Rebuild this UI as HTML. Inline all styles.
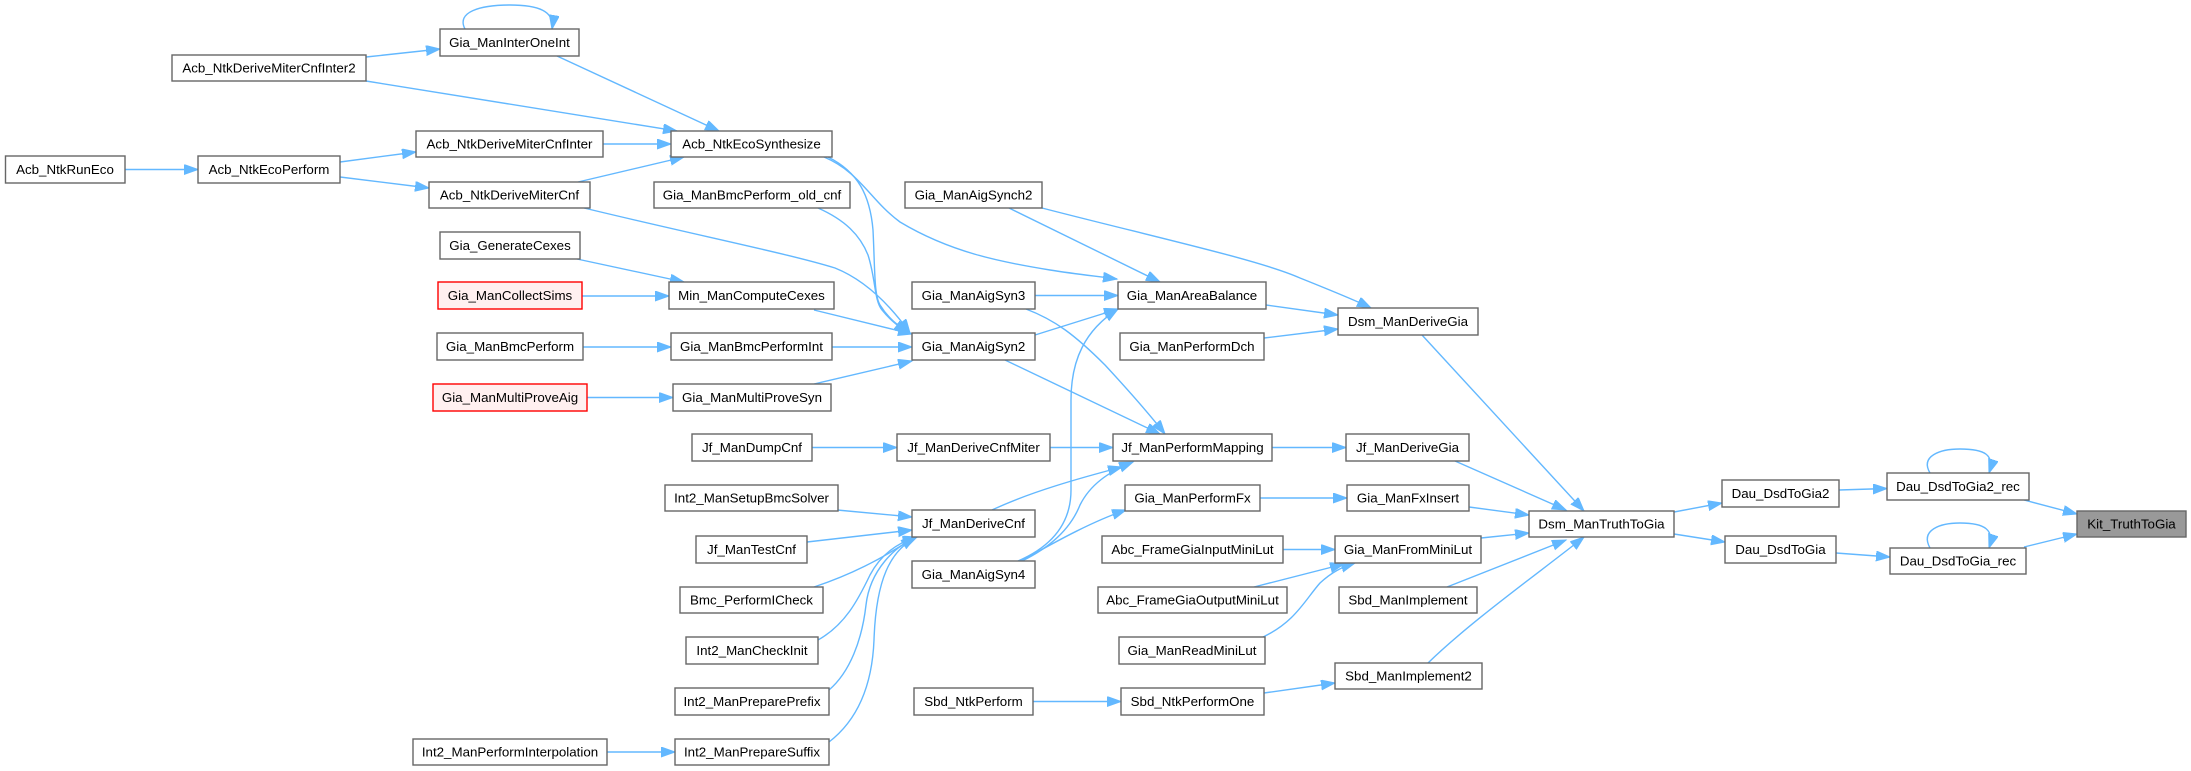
<!DOCTYPE html>
<html><head><meta charset="utf-8"><style>
html,body{margin:0;padding:0;background:#fff;}
svg{display:block;}
text{font-family:"Liberation Sans",Arial,sans-serif;font-size:13.33px;fill:#000;text-anchor:middle;}
.n{fill:#fff;stroke:#666;stroke-width:1.4;}
.r{fill:#fff0f0;stroke:#ff0000;stroke-width:1.4;}
.k{fill:#999;stroke:#666;stroke-width:1.4;}
.e{fill:none;stroke:#63b8ff;stroke-width:1.4;marker-end:url(#a);}
</style></head><body>
<svg width="2191" height="771" viewBox="0 0 2191 771" xmlns="http://www.w3.org/2000/svg">
<defs><marker id="a" markerUnits="userSpaceOnUse" markerWidth="16" markerHeight="12" refX="14" refY="5" orient="auto"><path d="M0,0 L14,5 L0,10 z" fill="#63b8ff" stroke="#63b8ff" stroke-width="1"/></marker></defs>
<rect width="2191" height="771" fill="#fff"/>
<!-- edges -->
<path class="e" d="M125,169.5 L198,169.5"/>
<path class="e" d="M340,162 L416,152"/>
<path class="e" d="M340,177 L429,188"/>
<path class="e" d="M366,57 L440,49"/>
<path class="e" d="M366,81 L677,131"/>
<path class="e" d="M557,56 L719,131"/>
<path class="e" d="M465,29 C456,12 480,5 510,5 C538,5 555,11 552,29"/>
<path class="e" d="M603,144 L671,144"/>
<path class="e" d="M578,182 L684,157"/>
<path class="e" d="M584,208 C700,236 790,254 835,268 C865,280 890,305 910,333"/>
<path class="e" d="M828,157 C858,172 870,195 873,230 C875,270 874,295 880,305 C888,318 898,326 910,333"/>
<path class="e" d="M824,157 C860,172 870,200 900,222 C950,252 1000,262 1050,270 C1075,274 1095,276 1117,279"/>
<path class="e" d="M818,208 C845,220 860,235 868,255 C876,280 874,300 882,310 C890,320 898,326 908,333"/>
<path class="e" d="M577,259 L684,282"/>
<path class="e" d="M582,296 L669,296"/>
<path class="e" d="M814,310 L912,334"/>
<path class="e" d="M583,347 L671,347"/>
<path class="e" d="M832,347 L912,347"/>
<path class="e" d="M587,397.5 L673,397.5"/>
<path class="e" d="M814,384 L912,361"/>
<path class="e" d="M1009,208 L1160,282"/>
<path class="e" d="M1042,208 C1150,236 1260,260 1300,278 C1330,290 1355,300 1371,308"/>
<path class="e" d="M1035,295.5 L1118,295.5"/>
<path class="e" d="M1026,309 C1055,320 1075,335 1105,365 C1130,392 1150,415 1165,434"/>
<path class="e" d="M1035,335 L1118,309"/>
<path class="e" d="M1005,360 L1160,434"/>
<path class="e" d="M1266,305 L1338,315"/>
<path class="e" d="M1264,338 L1338,329"/>
<path class="e" d="M1422,335 L1584,511"/>
<path class="e" d="M812,447.5 L897,447.5"/>
<path class="e" d="M1050,447.5 L1113,447.5"/>
<path class="e" d="M1272,447.5 L1346,447.5"/>
<path class="e" d="M1455,461 L1566,510"/>
<path class="e" d="M992,510 C1030,492 1080,478 1122,467"/>
<path class="e" d="M1022,561 C1055,545 1072,525 1080,505 C1090,485 1108,472 1133,462"/>
<path class="e" d="M1018,561 C1055,545 1071,520 1071,490 L1071,400 C1071,360 1085,330 1118,309"/>
<path class="e" d="M1021,561 C1050,545 1090,522 1126,510"/>
<path class="e" d="M1260,498 L1347,498"/>
<path class="e" d="M1469,507 L1529,515"/>
<path class="e" d="M1283,549.5 L1335,549.5"/>
<path class="e" d="M1254,587 L1344,564"/>
<path class="e" d="M1263,637 C1295,622 1305,600 1320,583 C1332,572 1342,567 1355,563"/>
<path class="e" d="M1481,538 L1529,533"/>
<path class="e" d="M1447,587 L1566,540"/>
<path class="e" d="M1428,663 C1470,622 1540,572 1584,537"/>
<path class="e" d="M1033,701.5 L1121,701.5"/>
<path class="e" d="M1264,693 L1335,683"/>
<path class="e" d="M1674,512 L1722,503"/>
<path class="e" d="M1674,534 L1725,542"/>
<path class="e" d="M1839,490 L1887,488.5"/>
<path class="e" d="M1836,553 L1890,557"/>
<path class="e" d="M2024,500 L2077,514"/>
<path class="e" d="M2024,547 L2077,534"/>
<path class="e" d="M1930,473 C1920,456 1940,449 1960,449 C1985,449 1995,455 1989,473"/>
<path class="e" d="M1930,548 C1920,530 1940,523 1960,523 C1985,523 1995,530 1989,548"/>
<path class="e" d="M607,752 L675,752"/>
<path class="e" d="M837,510 L912,517"/>
<path class="e" d="M807,542 L912,530"/>
<path class="e" d="M814,587 C850,575 880,560 915,537"/>
<path class="e" d="M818,640 C845,625 858,600 870,575 C882,552 900,542 917,537"/>
<path class="e" d="M829,690 C850,672 862,640 866,605 C870,570 895,546 917,537"/>
<path class="e" d="M829,742 C855,722 872,690 874,640 C876,580 890,550 917,537"/>
<!-- nodes -->
<g>
<rect class="n" x="5.5" y="156" width="119.5" height="27"/><text x="65" y="174.2">Acb_NtkRunEco</text>
<rect class="n" x="198" y="156" width="142" height="27"/><text x="269" y="174.2">Acb_NtkEcoPerform</text>
<rect class="n" x="172" y="55" width="194" height="26"/><text x="269" y="72.7">Acb_NtkDeriveMiterCnfInter2</text>
<rect class="n" x="440" y="29" width="139" height="27"/><text x="509.5" y="47.2">Gia_ManInterOneInt</text>
<rect class="n" x="416" y="131" width="187" height="26"/><text x="509.5" y="148.7">Acb_NtkDeriveMiterCnfInter</text>
<rect class="n" x="429" y="182" width="161" height="26"/><text x="509.5" y="199.7">Acb_NtkDeriveMiterCnf</text>
<rect class="n" x="671" y="131" width="161" height="26"/><text x="751.5" y="148.7">Acb_NtkEcoSynthesize</text>
<rect class="n" x="654" y="182" width="196" height="26"/><text x="752" y="199.7">Gia_ManBmcPerform_old_cnf</text>
<rect class="n" x="440" y="232" width="140" height="27"/><text x="510" y="250.2">Gia_GenerateCexes</text>
<rect class="r" x="438" y="282" width="144" height="27"/><text x="510" y="300.2">Gia_ManCollectSims</text>
<rect class="n" x="669" y="282" width="165" height="27"/><text x="751.5" y="300.2">Min_ManComputeCexes</text>
<rect class="n" x="437" y="333" width="146" height="27"/><text x="510" y="351.2">Gia_ManBmcPerform</text>
<rect class="n" x="671" y="333" width="161" height="27"/><text x="751.5" y="351.2">Gia_ManBmcPerformInt</text>
<rect class="r" x="433" y="384" width="154" height="27"/><text x="510" y="402.2">Gia_ManMultiProveAig</text>
<rect class="n" x="673" y="384" width="158" height="27"/><text x="752" y="402.2">Gia_ManMultiProveSyn</text>
<rect class="n" x="692" y="434" width="120" height="27"/><text x="752" y="452.2">Jf_ManDumpCnf</text>
<rect class="n" x="665" y="485" width="173" height="26"/><text x="751.5" y="502.7">Int2_ManSetupBmcSolver</text>
<rect class="n" x="696" y="536" width="111" height="27"/><text x="751.5" y="554.2">Jf_ManTestCnf</text>
<rect class="n" x="680" y="587" width="143" height="26"/><text x="751.5" y="604.7">Bmc_PerformICheck</text>
<rect class="n" x="686" y="637" width="132" height="27"/><text x="752" y="655.2">Int2_ManCheckInit</text>
<rect class="n" x="675" y="688" width="154" height="27"/><text x="752" y="706.2">Int2_ManPreparePrefix</text>
<rect class="n" x="675" y="739" width="154" height="26"/><text x="752" y="756.7">Int2_ManPrepareSuffix</text>
<rect class="n" x="413" y="739" width="194" height="26"/><text x="510" y="756.7">Int2_ManPerformInterpolation</text>
<rect class="n" x="905" y="182" width="137" height="26"/><text x="973.5" y="199.7">Gia_ManAigSynch2</text>
<rect class="n" x="912" y="282" width="123" height="27"/><text x="973.5" y="300.2">Gia_ManAigSyn3</text>
<rect class="n" x="912" y="333" width="123" height="27"/><text x="973.5" y="351.2">Gia_ManAigSyn2</text>
<rect class="n" x="897" y="434" width="153" height="27"/><text x="973.5" y="452.2">Jf_ManDeriveCnfMiter</text>
<rect class="n" x="912" y="510" width="123" height="27"/><text x="973.5" y="528.2">Jf_ManDeriveCnf</text>
<rect class="n" x="912" y="561" width="123" height="27"/><text x="973.5" y="579.2">Gia_ManAigSyn4</text>
<rect class="n" x="914" y="688" width="119" height="27"/><text x="973.5" y="706.2">Sbd_NtkPerform</text>
<rect class="n" x="1118" y="282" width="148" height="27"/><text x="1192" y="300.2">Gia_ManAreaBalance</text>
<rect class="n" x="1120" y="333" width="144" height="27"/><text x="1192" y="351.2">Gia_ManPerformDch</text>
<rect class="n" x="1113" y="434" width="159" height="27"/><text x="1192.5" y="452.2">Jf_ManPerformMapping</text>
<rect class="n" x="1125" y="485" width="135" height="26"/><text x="1192.5" y="502.7">Gia_ManPerformFx</text>
<rect class="n" x="1102" y="536" width="181" height="27"/><text x="1192.5" y="554.2">Abc_FrameGiaInputMiniLut</text>
<rect class="n" x="1098" y="587" width="189" height="26"/><text x="1192.5" y="604.7">Abc_FrameGiaOutputMiniLut</text>
<rect class="n" x="1119" y="637" width="146" height="27"/><text x="1192" y="655.2">Gia_ManReadMiniLut</text>
<rect class="n" x="1121" y="688" width="143" height="27"/><text x="1192.5" y="706.2">Sbd_NtkPerformOne</text>
<rect class="n" x="1338" y="308" width="140" height="27"/><text x="1408" y="326.2">Dsm_ManDeriveGia</text>
<rect class="n" x="1346" y="434" width="123" height="27"/><text x="1407.5" y="452.2">Jf_ManDeriveGia</text>
<rect class="n" x="1347" y="485" width="122" height="26"/><text x="1408" y="502.7">Gia_ManFxInsert</text>
<rect class="n" x="1335" y="536" width="146" height="27"/><text x="1408" y="554.2">Gia_ManFromMiniLut</text>
<rect class="n" x="1339" y="587" width="138" height="26"/><text x="1408" y="604.7">Sbd_ManImplement</text>
<rect class="n" x="1335" y="663" width="147" height="26"/><text x="1408.5" y="680.7">Sbd_ManImplement2</text>
<rect class="n" x="1529" y="511" width="145" height="26"/><text x="1601.5" y="528.7">Dsm_ManTruthToGia</text>
<rect class="n" x="1722" y="480" width="117" height="27"/><text x="1780.5" y="498.2">Dau_DsdToGia2</text>
<rect class="n" x="1725" y="536" width="111" height="27"/><text x="1780.5" y="554.2">Dau_DsdToGia</text>
<rect class="n" x="1887" y="473" width="142" height="27"/><text x="1958" y="491.2">Dau_DsdToGia2_rec</text>
<rect class="n" x="1890" y="548" width="136" height="26"/><text x="1958" y="565.7">Dau_DsdToGia_rec</text>
<rect class="k" x="2077" y="511" width="109" height="26"/><text x="2131.5" y="528.7">Kit_TruthToGia</text>
</g>
</svg>
</body></html>
